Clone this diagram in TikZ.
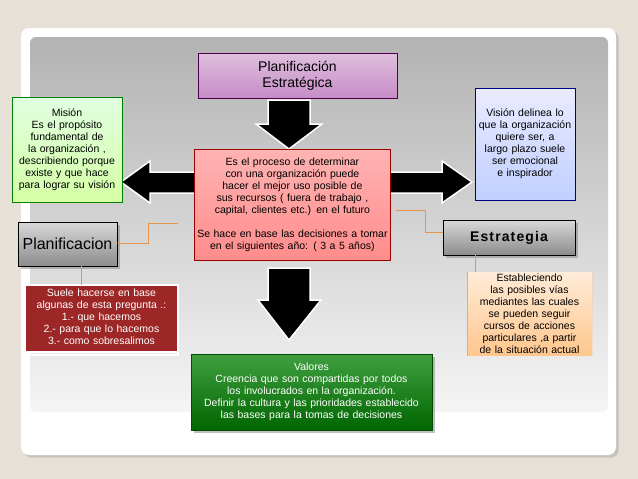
\documentclass[tikz,border=0pt]{standalone}
\usepackage{fontspec}
\setmainfont{Liberation Sans}
\usetikzlibrary{shadows}
\hyphenpenalty=10000
\exhyphenpenalty=10000
\definecolor{bg}{HTML}{E6E0D6}
\definecolor{conn}{HTML}{E8954A}
\tikzset{
 box/.style={draw, line width=0.8pt, align=center, inner sep=1pt, font=\fontsize{10.5}{12}\selectfont},
 bigarrow/.style={fill=black, draw=white, line width=1.5pt},
 link/.style={draw=conn, line width=0.8pt},
}
\begin{document}
\begin{tikzpicture}[x=1pt,y=-1pt]
\useasboundingbox (0,0) rectangle (638,479);
\fill[bg] (0,0) rectangle (638,479);
\fill[white, rounded corners=8pt, drop shadow={opacity=0.3}] (21,28) rectangle (616,455);
\shade[top color=black!30, bottom color=black!4, rounded corners=6pt] (30,37) rectangle (608,412);
% arrows
\draw[bigarrow] (268,100)--(310,100)--(310,124)--(322,124)--(289,149)--(256,124)--(268,124)--cycle;
\draw[bigarrow] (268,268)--(310,268)--(310,300)--(321,300)--(289,340)--(258,300)--(268,300)--cycle;
\draw[bigarrow] (196,172)--(150,172)--(150,161)--(121,182)--(150,203)--(150,193)--(196,193)--cycle;
\draw[bigarrow] (390,172)--(442,172)--(442,161)--(472,182)--(442,203)--(442,193)--(390,193)--cycle;
% nodes
\node[box, draw=violet!60!black, top color=violet!25, bottom color=violet!45, minimum width=199, minimum height=45, font=\fontsize{14}{16}\selectfont] (title) at (297.5,75.5) {Planificación\\Estratégica};
\node[box, draw=red!60!black, top color=red!30, bottom color=red!45, minimum width=196, minimum height=111, text width=194, anchor=north west, inner sep=0pt] (proc) at (194,149) {Es el proceso de determinar con una organización puede hacer el mejor uso posible de sus recursos ( fuera de trabajo , capital, clientes etc.) en el futuro\\[12pt]Se hace en base las decisiones a tomar en el siguientes año: ( 3 a 5 años)};
\node[box, draw=green!50!black, top color=green!12, bottom color=green!30!lime!35, minimum width=110, minimum height=105, text width=108] (mision) at (67,149.5) {Misión\\Es el propósito fundamental de la organización , describiendo porque existe y que hace para lograr su visión};
\node[box, draw=blue!50!black, top color=blue!8, bottom color=cyan!25!blue!25, minimum width=100, minimum height=112, text width=94] (vision) at (525,144) {Visión delinea lo que la organización quiere ser, a largo plazo suele ser emocional e inspirador};
\node[box, draw=black, top color=black!15, bottom color=black!45, minimum width=99, minimum height=44, font=\fontsize{16}{18}\selectfont, drop shadow] (plan) at (67.5,244) {Planificacion};
\node[box, draw=black, top color=black!15, bottom color=black!45, minimum width=132, minimum height=35, font=\bfseries\fontsize{14}{16}\selectfont, drop shadow] (estr) at (509,237.5) {\addfontfeature{LetterSpace=8}Estrategia};
\begin{scope}
\clip (25,285) rectangle (178,355);
\node[box, draw=white, line width=2pt, fill=red!55!black!85, text=white, minimum width=153, minimum height=70, anchor=north, text width=150] (preg) at (101.5,281) {Suele hacerse en base algunas de esta pregunta .:\\1.- que hacemos\\2.- para que lo hacemos\\3.- como sobresalimos};
\end{scope}
\draw[white, line width=2pt] (25,285) rectangle (178,355);
\begin{scope}
\clip (467,272) rectangle (592,355);
\node[box, draw=orange!70, top color=orange!15, bottom color=orange!45, minimum width=125, minimum height=85, anchor=north, text width=120] (vias) at (529.5,271) {Estableciendo las posibles vías mediantes las cuales se pueden seguir cursos de acciones particulares ,a partir de la situación actual};
\end{scope}
\node[box, draw=green!30!black, top color=green!50!black!75, bottom color=green!40!black, text=white, minimum width=241, minimum height=76, text width=236, drop shadow] (valores) at (311.5,392) {Valores\\Creencia que son compartidas por todos los involucrados en la organización.\\Definir la cultura y las prioridades establecido las bases para la tomas de decisiones};
% connectors
\coordinate (c1) at (178,223);
\coordinate (c2) at (396,210);
\draw[link, ->] (c1) -- (148,223) -- (148,243) -- (plan.east |- 0,243);
\draw[link] (c2) -- (425,210) -- (425,232) -- (estr.west |- 0,232);
\draw[link] (plan.south -| 81,0) -- (81,285);
\draw[link] (estr.south -| 475,0) -- (475,272);
\end{tikzpicture}
\end{document}
